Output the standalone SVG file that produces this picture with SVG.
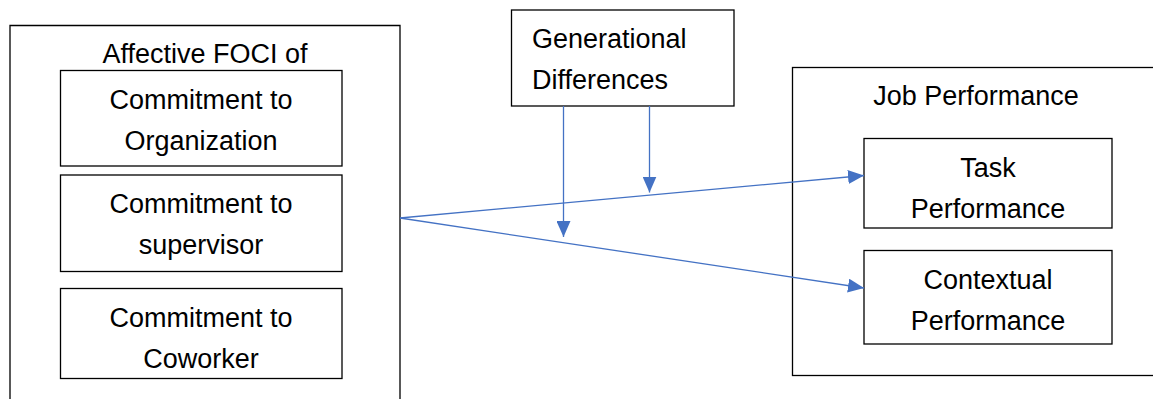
<svg xmlns="http://www.w3.org/2000/svg" width="1153" height="399" viewBox="0 0 1153 399">
<style>
.box{fill:#fff;stroke:#000;stroke-width:1.3}
.t{font-family:"Liberation Sans",Arial,sans-serif;font-size:27px;fill:#000}
.c{text-anchor:middle}
.conn{stroke:#4472C4;stroke-width:1.3;fill:none}
</style>
<defs>
<marker id="ah" viewBox="0 0 16 14" refX="16" refY="7" markerWidth="16" markerHeight="14" markerUnits="userSpaceOnUse" orient="auto">
<path d="M0,0 L16,7 L0,14 Z" fill="#4472C4"/>
</marker>
</defs>
<rect width="1153" height="399" fill="#fff"/>
<g id="affective-foci">
<path class="box" d="M10,400 L10,25.5 L400,25.5 L400,400"/>
<text class="t c" x="205" y="63">Affective FOCI of</text>
</g>
<g id="commit-org">
<rect class="box" x="60.5" y="70.5" width="281.5" height="95.5"/>
<text class="t c" x="201" y="109">Commitment to</text>
<text class="t c" x="201" y="150">Organization</text>
</g>
<g id="commit-sup">
<rect class="box" x="60.5" y="175" width="281.5" height="96.5"/>
<text class="t c" x="201" y="213">Commitment to</text>
<text class="t c" x="201" y="254">supervisor</text>
</g>
<g id="commit-cow">
<rect class="box" x="60.5" y="288.5" width="281.5" height="90"/>
<text class="t c" x="201" y="327">Commitment to</text>
<text class="t c" x="201" y="368">Coworker</text>
</g>
<g id="generational">
<rect class="box" x="511.5" y="10" width="222.5" height="96"/>
<text class="t" x="532" y="48">Generational</text>
<text class="t" x="532" y="89">Differences</text>
</g>
<g id="job-performance">
<rect class="box" x="792.5" y="67.5" width="372" height="308"/>
<text class="t c" x="976" y="105">Job Performance</text>
</g>
<g id="task">
<rect class="box" x="864" y="138.5" width="248" height="89.5"/>
<text class="t c" x="988" y="177">Task</text>
<text class="t c" x="988" y="218">Performance</text>
</g>
<g id="contextual">
<rect class="box" x="864" y="250.5" width="248" height="93.5"/>
<text class="t c" x="988" y="289">Contextual</text>
<text class="t c" x="988" y="330">Performance</text>
</g>
<g id="connectors">
<line class="conn" x1="400" y1="218" x2="864" y2="175.5" marker-end="url(#ah)"/>
<line class="conn" x1="400" y1="218" x2="864" y2="288" marker-end="url(#ah)"/>
<line class="conn" x1="563.5" y1="106" x2="563.5" y2="237" marker-end="url(#ah)"/>
<line class="conn" x1="649.5" y1="106" x2="649.5" y2="192.5" marker-end="url(#ah)"/>
</g>
</svg>
